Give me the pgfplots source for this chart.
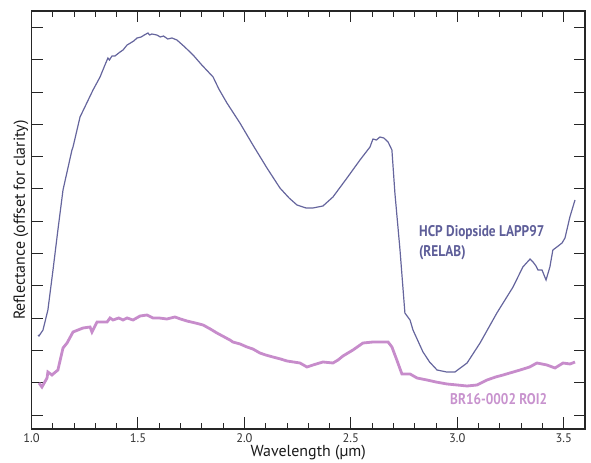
\documentclass[border=0pt]{standalone}
\usepackage{pgfplots}
\pgfplotsset{compat=1.18}
\usetikzlibrary{calc}
\usepackage{fontspec}
\setmainfont{PT Sans}
\newfontfamily\condb{PT Sans}[FakeStretch=0.86]
\definecolor{hcp}{HTML}{65659D}
\definecolor{hcptext}{HTML}{5E5E99}
\definecolor{roi}{HTML}{C78CCB}
\definecolor{roitext}{HTML}{C893CE}
\begin{document}
\begin{tikzpicture}
\begin{axis}[
  name=ax, at={(0,0)}, anchor=south west,
  width=553.5bp, height=418bp, scale only axis,
  xmin=1.0, xmax=3.6, ymin=0, ymax=418,
  xtick={1.0,1.5,2.0,2.5,3.0,3.5},
  minor x tick num=4,
  ytick={14,46.3,78.6,110.9,143.2,175.5,207.8,240.1,272.4,304.7,337,369.3,401.6},
  yticklabels={},
  tick align=inside,
  major tick length=11.5bp, minor tick length=6bp,
  axis line style={black!85, line width=1.1bp},
  tick style={black!85, line width=0.9bp},
  xticklabel style={/pgf/number format/.cd, fixed, fixed zerofill, precision=1, /tikz/.cd, anchor=center, yshift=-9bp, font=\fontsize{12.5}{14}\selectfont, text=black!80},
  /pgf/number format/assume math mode=true,
  xlabel={Wavelength (µm)},
  xlabel style={at={(axis description cs:0.5,0)}, anchor=center, yshift=-24bp, font=\fontsize{16}{18}\selectfont, text=black!90},
  ylabel={Reflectance (offset for clarity)},
  ylabel style={at={(axis description cs:0,0.5)}, anchor=center, yshift=10.5bp, font=\fontsize{16}{18}\selectfont, text=black!90},
]
\addplot[hcp, line width=1.2bp] coordinates {
(1.031,94) (1.035,93) (1.054,99) (1.077,119) (1.101,159) (1.124,199) (1.148,239)
(1.190,279) (1.195,282) (1.228,312) (1.289,339) (1.322,352) (1.345,364) (1.359,371)
(1.366,369) (1.378,373) (1.392,373) (1.416,377) (1.430,379) (1.449,384) (1.465,386)
(1.480,388) (1.496,391) (1.515,392) (1.530,394) (1.547,396) (1.555,394) (1.565,395)
(1.589,394) (1.605,392) (1.620,393) (1.640,390) (1.660,391) (1.683,389) (1.720,382)
(1.759,374) (1.800,364) (1.853,352) (1.880,340) (1.918,326) (1.979,306) (2.040,284)
(2.106,261) (2.167,241) (2.210,231) (2.247,224) (2.290,221) (2.322,221) (2.369,223)
(2.416,232) (2.482,251) (2.543,269) (2.590,282) (2.604,290) (2.620,289) (2.637,292)
(2.655,291) (2.675,287) (2.693,279) (2.707,236) (2.731,179) (2.754,116) (2.778,109)
(2.792,99) (2.839,77) (2.870,67) (2.905,59) (2.950,57) (2.989,57) (3.046,66)
(3.107,86) (3.186,116) (3.262,142) (3.308,162) (3.342,170) (3.356,167) (3.370,163)
(3.379,159) (3.398,159) (3.417,149) (3.435,162) (3.449,179) (3.468,182) (3.492,186)
(3.506,191) (3.529,212) (3.553,229)
};
\addplot[roi, line width=2.8bp] coordinates {
(1.035,46) (1.049,42) (1.073,51) (1.077,57) (1.096,54) (1.124,59) (1.148,81)
(1.167,86) (1.195,97) (1.242,101) (1.275,102) (1.284,97) (1.308,107) (1.355,107)
(1.369,111) (1.383,109) (1.410,111) (1.430,109) (1.449,111) (1.477,109) (1.510,113)
(1.543,114) (1.571,111) (1.600,111) (1.636,110) (1.674,112) (1.700,110) (1.730,108)
(1.770,106) (1.806,104) (1.840,100) (1.871,96) (1.932,89) (1.946,87) (1.980,85)
(2.012,82) (2.040,80) (2.073,76) (2.100,74) (2.134,72) (2.170,70) (2.200,68)
(2.261,66) (2.294,62) (2.322,64) (2.369,67) (2.416,66) (2.440,69) (2.463,73)
(2.510,79) (2.557,86) (2.604,87) (2.640,87) (2.675,87) (2.693,82) (2.716,69)
(2.740,55) (2.778,55) (2.811,51) (2.858,49) (2.900,47) (2.952,45) (3.000,44)
(3.046,43) (3.093,44) (3.140,49) (3.180,52) (3.215,54) (3.295,59) (3.340,62)
(3.374,66) (3.421,64) (3.459,61) (3.497,66) (3.530,65) (3.553,67)
};
\node[anchor=west, text=hcptext, font=\condb\bfseries\fontsize{15.5}{18}\selectfont, inner sep=0pt] at (axis cs:2.820,196) {HCP Diopside LAPP97};
\node[anchor=west, text=hcptext, font=\condb\bfseries\fontsize{15.5}{18}\selectfont, inner sep=0pt] at (axis cs:2.820,176) {(RELAB)};
\node[anchor=west, text=roitext, font=\condb\bfseries\fontsize{15.5}{18}\selectfont, inner sep=0pt] at (axis cs:2.966,30) {BR16-0002 ROI2};
\end{axis}
\pgfresetboundingbox
\path ($(ax.south west)+(-31.5bp,-34bp)$) rectangle ($(ax.north east)+(6bp,11bp)$);
\end{tikzpicture}
\end{document}
